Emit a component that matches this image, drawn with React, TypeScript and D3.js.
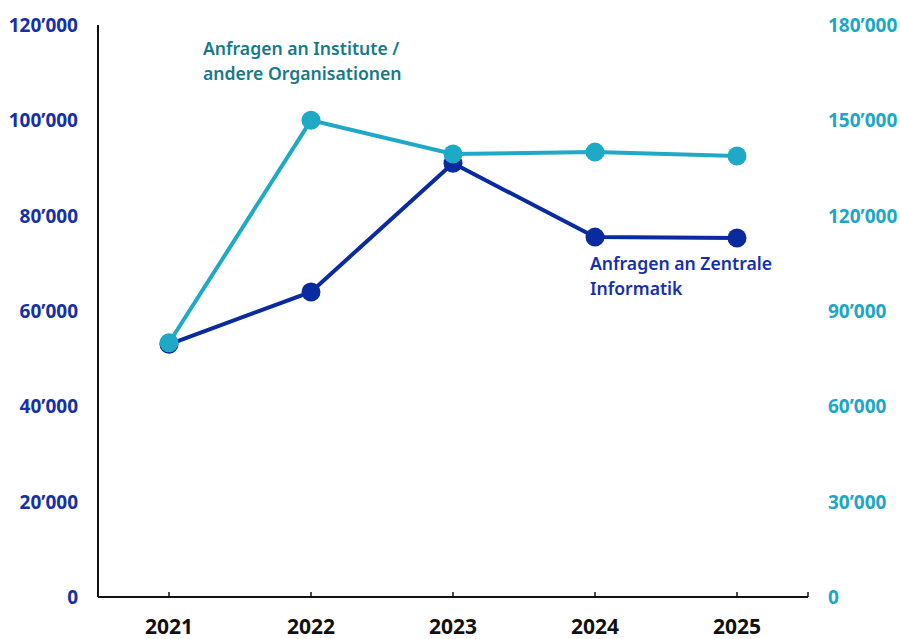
import React from "react";
import * as d3 from "d3";

const years = ["2021", "2022", "2023", "2024", "2025"];
const zentrale = [53000, 64000, 91000, 75500, 75300];
const institute = [80000, 150000, 139400, 140000, 138800];
const leftTicks = [0, 20000, 40000, 60000, 80000, 100000, 120000];
const rightTicks = [0, 30000, 60000, 90000, 120000, 150000, 180000];
const labelInstitute = ["Anfragen an Institute /", "andere Organisationen"];
const labelZentrale = ["Anfragen an Zentrale", "Informatik"];

const W = 901;
const H = 639;
const left = 98;
const right = 808;
const top = 25;
const bottom = 597;

const DARK = "#0a2aa0";
const LIGHT = "#1fa9c7";
const DARK_TXT = "#1530a8";
const LIGHT_TXT = "#1ea6c6";
const TEAL_TXT = "#177a89";
const FONT = "'Noto Sans', sans-serif";

const fmt = (v: number) => {
  if (v === 0) return "0";
  const s = d3.format(",")(v);
  return s.replace(/,/g, "\u2019");
};

export default function App() {
  const x = d3.scaleBand<string>().domain(years).range([left, right]);
  const cx = (d: string) => (x(d) as number) + x.bandwidth() / 2;
  const yL = d3.scaleLinear().domain([0, 120000]).range([bottom, top]);
  const yR = d3.scaleLinear().domain([0, 180000]).range([bottom, top]);

  const lineL = d3
    .line<number>()
    .x((_, i) => cx(years[i]))
    .y((v) => yL(v));
  const lineR = d3
    .line<number>()
    .x((_, i) => cx(years[i]))
    .y((v) => yR(v));

  return (
    <svg
      width={W}
      height={H}
      style={{ position: "absolute", left: 0, top: 0, background: "#fff" }}
      fontFamily={FONT}
    >
      <line x1={left} x2={left} y1={top} y2={bottom} stroke="#111" strokeWidth={2} />
      <line x1={left} x2={right} y1={bottom} y2={bottom} stroke="#111" strokeWidth={2} />
      {years.map((yr) => (
        <line key={yr} x1={cx(yr)} x2={cx(yr)} y1={bottom} y2={bottom - 5} stroke="#111" strokeWidth={1.5} />
      ))}
      <line x1={right} x2={right} y1={bottom} y2={bottom - 5} stroke="#111" strokeWidth={1.5} />
      {years.map((yr) => (
        <text key={yr} x={cx(yr)} y={634} textAnchor="middle" fontSize={21} fontWeight={700} fill="#111">
          {yr}
        </text>
      ))}
      {leftTicks.map((t) => (
        <text key={t} x={78} y={yL(t) + 7} textAnchor="end" fontSize={19} fontWeight={700} fill={DARK_TXT}>
          {fmt(t)}
        </text>
      ))}
      {rightTicks.map((t) => (
        <text key={t} x={828} y={yR(t) + 7} textAnchor="start" fontSize={19} fontWeight={700} fill={LIGHT_TXT}>
          {fmt(t)}
        </text>
      ))}

      <path d={lineL(zentrale) || ""} fill="none" stroke={DARK} strokeWidth={4} />
      {zentrale.map((v, i) => (
        <circle key={i} cx={cx(years[i])} cy={yL(v)} r={9.5} fill={DARK} />
      ))}
      <path d={lineR(institute) || ""} fill="none" stroke={LIGHT} strokeWidth={4} />
      {institute.map((v, i) => (
        <circle key={i} cx={cx(years[i])} cy={yR(v)} r={9.5} fill={LIGHT} />
      ))}

      {labelInstitute.map((s, i) => (
        <text key={s} x={203} y={55 + i * 25} fontSize={17.6} fontWeight={600} fill={TEAL_TXT}>
          {s}
        </text>
      ))}
      {labelZentrale.map((s, i) => (
        <text key={s} x={590} y={270 + i * 25} fontSize={17.6} fontWeight={600} fill={DARK_TXT}>
          {s}
        </text>
      ))}
    </svg>
  );
}
